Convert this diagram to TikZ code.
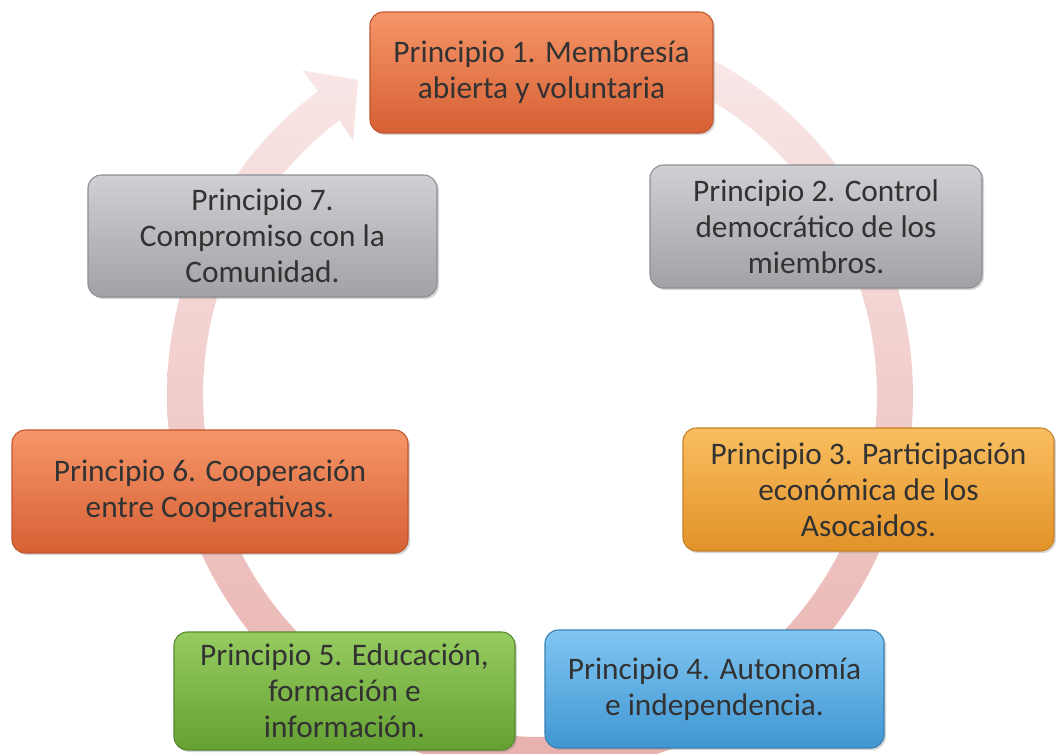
\documentclass[tikz,border=0pt]{standalone}
\usepackage{fontspec}
\setmainfont{Carlito}
\usetikzlibrary{shadows}
\definecolor{txt}{RGB}{50,50,50}
\definecolor{arrtop}{RGB}{250,234,234}
\definecolor{arrbot}{RGB}{232,176,172}
\definecolor{orT}{RGB}{246,150,104}
\definecolor{orM}{RGB}{236,118,70}
\definecolor{orB}{RGB}{214,96,52}
\definecolor{orD}{RGB}{190,86,48}
\definecolor{grT}{RGB}{206,208,211}
\definecolor{grM}{RGB}{184,186,190}
\definecolor{grB}{RGB}{160,162,166}
\definecolor{grD}{RGB}{140,142,146}
\definecolor{yeT}{RGB}{250,190,96}
\definecolor{yeM}{RGB}{245,168,60}
\definecolor{yeB}{RGB}{226,146,40}
\definecolor{yeD}{RGB}{196,128,40}
\definecolor{gnT}{RGB}{150,204,96}
\definecolor{gnM}{RGB}{124,184,68}
\definecolor{gnB}{RGB}{100,160,50}
\definecolor{gnD}{RGB}{86,136,46}
\definecolor{buT}{RGB}{128,198,242}
\definecolor{buM}{RGB}{92,176,230}
\definecolor{buB}{RGB}{64,150,210}
\definecolor{buD}{RGB}{56,128,180}
\tikzset{
  pbox/.style={rectangle, rounded corners=10pt, line width=0.8pt, align=center,
    text=txt, font=\fontsize{23.5}{27}\selectfont, inner sep=0pt,
    drop shadow={opacity=0.3, shadow xshift=1.5pt, shadow yshift=-1.5pt}},
  orbox/.style={pbox, top color=orT, middle color=orM, bottom color=orB, draw=orD},
  grbox/.style={pbox, top color=grT, middle color=grM, bottom color=grB, draw=grD},
  yebox/.style={pbox, top color=yeT, middle color=yeM, bottom color=yeB, draw=yeD},
  gnbox/.style={pbox, top color=gnT, middle color=gnM, bottom color=gnB, draw=gnD},
  bubox/.style={pbox, top color=buT, middle color=buM, bottom color=buB, draw=buD},
  cyclearrow/.style={top color=arrtop, bottom color=arrbot, draw=none}
}
\begin{document}
\begin{tikzpicture}[x=0.75pt,y=-0.75pt]
\useasboundingbox[fill=white] (0,0) rectangle (1056,753);
% circular arrow
\coordinate (hOut) at (302.4,70.4);
\coordinate (hTip) at (358,80);
\coordinate (hIn) at (353,140.8);
\shade[cyclearrow]
  plot[domain=0:318.5,samples=160] ({540+373*cos(85-\x)},{395-378*sin(85-\x)})
  -- (hOut) -- (hTip) -- (hIn)
  -- plot[domain=0:318.5,samples=160] ({540+337*cos(-233.5+\x)},{395-342*sin(-233.5+\x)})
  -- cycle;
% boxes
\node[orbox, minimum width=257.25pt, minimum height=90.75pt] (p1) at (541.5,72.5)
  {Principio 1. Membresía\\abierta y voluntaria};
\node[grbox, minimum width=249pt, minimum height=92.25pt] (p2) at (816,226.5)
  {Principio 2. Control\\democrático de los\\miembros.};
\node[yebox, minimum width=278.25pt, minimum height=92.25pt] (p3) at (868.5,489.5)
  {Principio 3. Participación\\económica de los\\Asocaidos.};
\node[bubox, minimum width=254.25pt, minimum height=88.5pt] (p4) at (714.5,689)
  {Principio 4. Autonomía\\e independencia.};
\node[gnbox, minimum width=255.75pt, minimum height=88.5pt] (p5) at (344.5,691)
  {Principio 5. Educación,\\formación e\\información.};
\node[orbox, minimum width=297pt, minimum height=92.25pt] (p6) at (210,491.5)
  {Principio 6. Cooperación\\entre Cooperativas.};
\node[grbox, minimum width=261.75pt, minimum height=91.5pt] (p7) at (262.5,236)
  {Principio 7.\\Compromiso con la\\Comunidad.};
\end{tikzpicture}
\end{document}
